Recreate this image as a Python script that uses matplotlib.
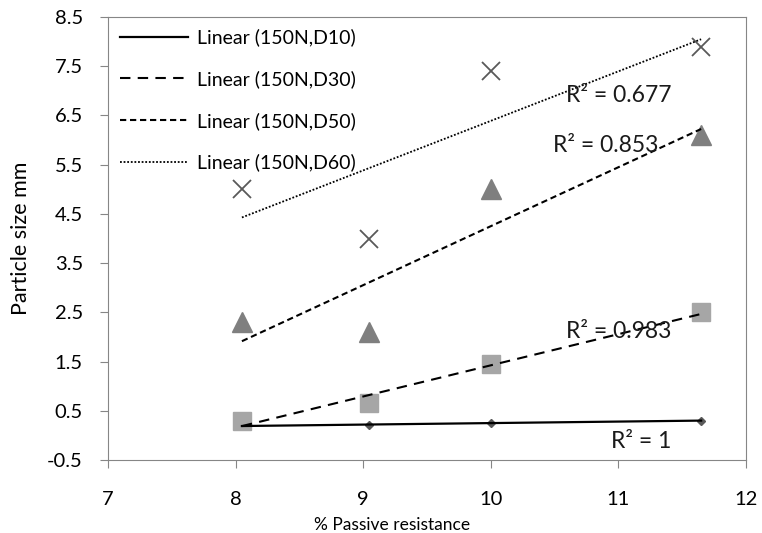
import numpy as np
import matplotlib
matplotlib.use("Agg")
import matplotlib.pyplot as plt

# ---- data ----
passive = [8.05, 9.05, 10.0, 11.65]            # % passive resistance
d10 = [0.19, 0.22, 0.25, 0.30]
d30 = [0.30, 0.65, 1.45, 2.50]
d50 = [2.30, 2.10, 5.00, 6.10]
d60 = [5.00, 4.00, 7.40, 7.90]
labels = ["Linear (150N,D10)", "Linear (150N,D30)",
          "Linear (150N,D50)", "Linear (150N,D60)"]
r2_text = ["R² = 1", "R² = 0.983", "R² = 0.853", "R² = 0.677"]
r2_pos = [(10.94, -0.13), (10.59, 2.12), (10.49, 5.9), (10.59, 6.9)]

plt.rcParams["font.family"] = ["Lato", "DejaVu Sans"]

fig = plt.figure(figsize=(7.62, 5.33), dpi=100)
ax = fig.add_axes([0.1417, 0.137, 0.837, 0.831])

series = [d10, d30, d50, d60]
markers = [dict(marker="D", ms=4, color="#595959"),
           dict(marker="s", ms=13, color="#A6A6A6"),
           dict(marker="^", ms=14, color="#7F7F7F"),
           dict(marker="x", ms=13, color="#595959", mew=1.3)]
styles = ["-", (0, (5, 3.5)), (0, (3, 1.8)), (0, (1, 1))]
widths = [1.6, 1.5, 1.5, 1.3]

x = np.array(passive)
xs = np.array([x.min(), x.max()])
for y, mk, ls, lw, lab in zip(series, markers, styles, widths, labels):
    ax.plot(x, y, ls="none", zorder=2, **mk)
    k, b = np.polyfit(x, y, 1)
    ax.plot(xs, k * xs + b, color="black", ls=ls, lw=lw, label=lab, zorder=3)

for txt, (tx, ty) in zip(r2_text, r2_pos):
    ax.text(tx, ty, txt, fontsize=16.5, va="center", ha="left", color="#1a1a1a")

ax.set_xlim(7, 12)
ax.set_ylim(-0.5, 8.5)
ax.set_xticks(range(7, 13))
ax.set_yticks(np.arange(-0.5, 8.6, 1.0))
ax.set_yticklabels([f"{v:.1f}" for v in np.arange(-0.5, 8.6, 1.0)])
for s in ax.spines.values():
    s.set_color("#868686")
ax.tick_params(axis="both", colors="#868686", labelcolor="black", labelsize=14.5,
               length=6, direction="out")
ax.tick_params(axis="x", pad=16)
ax.tick_params(axis="y", pad=12)

ax.set_xlabel("% Passive resistance", fontsize=12.5)
ax.xaxis.set_label_coords(0.445, -0.128)
ax.set_ylabel("Particle size mm", fontsize=15.5)
ax.yaxis.set_label_coords(-0.12, 0.5)

ax.legend(loc="upper left", frameon=False, fontsize=14, handlelength=3.5,
          labelspacing=1.22, borderaxespad=0.3, handletextpad=0.5,
          borderpad=0.3)

fig.savefig("out.png", dpi=100)
